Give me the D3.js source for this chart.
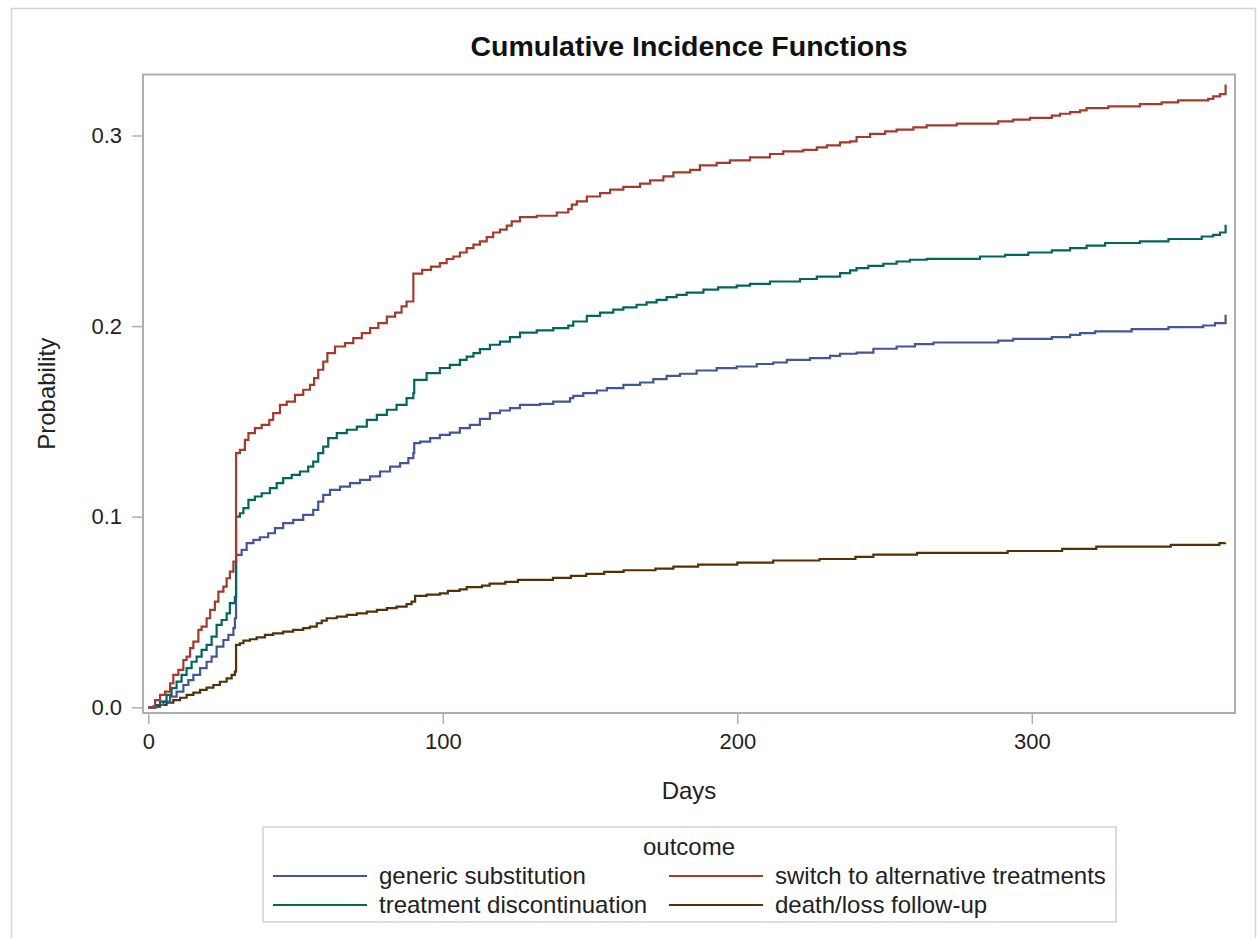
<!DOCTYPE html>
<html>
  <head>
    <meta charset="utf-8">
    <title>Cumulative Incidence Functions</title>
    <script src="https://d3js.org/d3.v7.min.js"></script>
    <style>
      body { margin: 0; background: #fff; }
      text { font-family: "Liberation Sans", Arial, sans-serif; fill: #222; }
    </style>
  </head>
  <body>
    <script>
      // ==================
      // Data
      // ==================
      const xTicks = [0, 100, 200, 300];
      const yTicks = [0.0, 0.1, 0.2, 0.3];

      const seriesNames = [
        "generic substitution",
        "switch to alternative treatments",
        "treatment discontinuation",
        "death/loss follow-up"
      ];

      const genericDays = [0, 2.8, 5.1, 7.4, 9.6, 11.9, 13.6, 15.3, 17.6, 19.8, 21.5, 23.2, 25.5, 27.2, 28.9, 29.4, 29.8, 31.7, 33.4, 35.7, 37.9, 40.7, 43, 45.8, 49.2, 52.6, 56, 57.7, 59.4, 61.7, 65.1, 68.5, 71.9, 75.3, 78.7, 82.1, 85.5, 88.3, 90,
        90.3, 92.3, 95.7, 99, 102.4, 105.8, 109.2, 112.6, 116, 119.4, 122.8, 126.2, 133, 137.5, 143.2, 144.3, 147.7, 152.3, 155.7, 161.3, 167, 171.5, 176, 180.5, 186.2, 193, 199.8, 206.6, 212.2, 216.8, 224.7, 231.5, 234.9, 240.5, 246.2, 254.1, 260.3, 266.6, 288.6, 293.7, 306.8, 313, 316.4, 321.5, 333.9, 346.4, 358.2, 362.2, 365.8];
      const genericProb = [0, 0.0012, 0.003, 0.0056, 0.0082, 0.0117, 0.0143, 0.017, 0.0205, 0.0239, 0.0266, 0.0318, 0.0353, 0.038, 0.0415, 0.0467, 0.08, 0.0826, 0.0861, 0.0878, 0.0892, 0.0913, 0.094, 0.0966, 0.0983, 0.101, 0.1036, 0.1079, 0.1114, 0.1141, 0.1158, 0.1176, 0.1193, 0.1211, 0.1237, 0.1263, 0.1281, 0.1307, 0.1333,
        0.1386, 0.1394, 0.1412, 0.1429, 0.1441, 0.1465, 0.1482, 0.1513, 0.1543, 0.1557, 0.157, 0.1587, 0.1592, 0.1604, 0.1622, 0.1634, 0.1648, 0.1662, 0.1675, 0.1692, 0.1704, 0.1722, 0.1739, 0.175, 0.1767, 0.1779, 0.1788, 0.1801, 0.1809, 0.1823, 0.1832, 0.1844, 0.1855, 0.1861, 0.1881, 0.1893, 0.1905, 0.1914, 0.1924, 0.1933, 0.1942, 0.1954, 0.1963, 0.1972, 0.1984, 0.1995, 0.2003, 0.2016, 0.206];

      const switchDays = [0, 2.3, 4, 5.7, 7.4, 8.5, 10.2, 11.9, 13, 14.2, 15.3, 17, 18.1, 19.8, 21, 22.6, 23.8, 25.5, 26.6, 27.7, 28.9, 29.8, 31.1, 32.8, 34, 36.2, 38.5, 41.1, 42.4, 44.7, 47, 49.8, 52.6, 54.9, 56.3, 57.7, 59.4, 60.8, 63.4, 66.8, 69.6, 72.5, 75.3, 78.1, 81, 83.8, 86, 87.7,
        90, 93, 96, 99, 101.3, 103.6, 105.8, 108.1, 110.4, 112.6, 114.9, 117.1, 119.4, 121.7, 123.4, 126.2, 131.9, 138.7, 142.6, 143.8, 145.5, 148.9, 153.4, 156.8, 161.3, 167, 170.4, 174.9, 178.3, 184, 187.3, 193, 197.5, 204.3, 211.1, 215.6, 222.4, 227, 230.4, 234.9, 238.3, 240.5, 245.1, 250.2, 254.1, 259.8, 264.3, 274.5, 288.6, 293.7, 299.4, 306.8, 309.6, 313, 316.4, 318.6, 326, 336.7, 344.1, 349.7, 359.9, 361.6, 363.9, 365.8];
      const switchProb = [0, 0.0038, 0.0065, 0.0082, 0.0126, 0.017, 0.0196, 0.0248, 0.0266, 0.031, 0.0344, 0.0406, 0.0423, 0.0467, 0.0511, 0.0554, 0.0607, 0.0633, 0.0677, 0.0712, 0.0764, 0.1333, 0.1351, 0.1403, 0.1438, 0.1465, 0.1482, 0.1508, 0.1543, 0.1587, 0.1604, 0.1639, 0.1666, 0.1692, 0.1727, 0.1771, 0.1814, 0.1858, 0.1893, 0.1911, 0.1937, 0.1963, 0.199, 0.2016, 0.205, 0.2071, 0.2103, 0.2129,
        0.2275, 0.2295, 0.2312, 0.233, 0.2352, 0.2365, 0.2386, 0.2409, 0.2427, 0.2444, 0.2467, 0.2491, 0.2506, 0.2527, 0.2549, 0.2572, 0.2579, 0.2596, 0.2614, 0.2637, 0.2654, 0.268, 0.2698, 0.2716, 0.273, 0.2747, 0.2764, 0.2785, 0.2806, 0.282, 0.2843, 0.2856, 0.2869, 0.2885, 0.2903, 0.2917, 0.2925, 0.2938, 0.2948, 0.2964, 0.2969, 0.2992, 0.3009, 0.3022, 0.3031, 0.3043, 0.3053, 0.3062, 0.3074, 0.3083, 0.3092, 0.3104, 0.3114, 0.3123, 0.3132, 0.3144, 0.3153, 0.3165, 0.3174, 0.3184, 0.3192, 0.3205, 0.3217, 0.3267];

      const discontDays = [0, 2.3, 4, 6.2, 7.9, 9.6, 11.3, 13, 14.7, 16.4, 18.1, 19.8, 21.5, 23.2, 24.9, 26.6, 27.7, 29.4, 29.8, 31.1, 32.3, 34, 36.2, 38.5, 41.3, 43.6, 45.8, 48.7, 51.5, 54.3, 56, 57.7, 59.4, 61.1, 64, 67.4, 70.8, 74.2, 77.6, 81, 84.3, 87.7, 90,
        90.3, 94.5, 99, 102.4, 105.8, 108.1, 110.4, 112.6, 116, 119.4, 122.8, 126.2, 131.9, 137.5, 142.6, 144.3, 148.9, 153.4, 157.9, 161.3, 165.8, 169.2, 172.6, 176, 179.4, 182.8, 188.5, 193.5, 199.8, 204.3, 211.1, 221.3, 227, 234.9, 238.3, 240.5, 244.5, 249.6, 254.1, 258.6, 264.3, 282.4, 290.9, 298.8, 306.8, 313, 318.6, 324.9, 336.7, 346.4, 357.7, 361.6, 363.9, 365.8];
      const discontProb = [0, 0.0012, 0.003, 0.0065, 0.01, 0.0135, 0.017, 0.0205, 0.0239, 0.0266, 0.0301, 0.0327, 0.0371, 0.0432, 0.0458, 0.0493, 0.0546, 0.058, 0.1, 0.1018, 0.1045, 0.1088, 0.1106, 0.1123, 0.115, 0.1176, 0.1202, 0.1219, 0.1237, 0.1263, 0.1289, 0.1333, 0.1368, 0.1412, 0.1438, 0.1456, 0.1473, 0.1508, 0.1534, 0.1561, 0.1587, 0.1622, 0.1648,
        0.1718, 0.1753, 0.178, 0.1797, 0.1823, 0.184, 0.1858, 0.1879, 0.1902, 0.1919, 0.1942, 0.1966, 0.1977, 0.1989, 0.2002, 0.2024, 0.2054, 0.2071, 0.2086, 0.2098, 0.2112, 0.2124, 0.2138, 0.2152, 0.2164, 0.2176, 0.2191, 0.2203, 0.2212, 0.2222, 0.2234, 0.2247, 0.226, 0.2278, 0.2292, 0.2304, 0.2316, 0.2327, 0.2339, 0.2348, 0.2353, 0.2365, 0.2374, 0.2386, 0.2397, 0.2409, 0.2422, 0.2436, 0.2444, 0.2457, 0.247, 0.2479, 0.2491, 0.2532];

      const deathDays = [0, 1.7, 4, 6.2, 8.5, 10.8, 13, 15.3, 17.6, 19.8, 22.1, 24.3, 26.6, 28.3, 29.4, 29.8, 31.1, 32.3, 34.5, 36.8, 39.6, 42.4, 45.8, 49.2, 52.6, 54.9, 57.2, 58.9, 60.6, 64, 67.4, 70.8, 74.2, 77.6, 81, 84.3, 87.7, 89.4, 90.6, 94.5, 99, 101.7,
        105.7, 108.1, 113.3, 115.9, 121.2, 125.5, 137.4, 143.5, 148.7, 154.8, 161.4, 172.2, 178.3, 186.7, 200, 212.2, 227.9, 240.1, 246.2, 261, 291.8, 310.3, 321.9, 347.2, 363.7, 365.6];
      const deathProb = [0, 0.0003, 0.0012, 0.0024, 0.0038, 0.005, 0.0065, 0.0077, 0.0091, 0.0103, 0.0117, 0.0134, 0.0152, 0.017, 0.0187, 0.0327, 0.0336, 0.035, 0.0357, 0.0367, 0.038, 0.0388, 0.0397, 0.0406, 0.0415, 0.0423, 0.0441, 0.0455, 0.0467, 0.0476, 0.0485, 0.0493, 0.0502, 0.0511, 0.052, 0.0528, 0.0541, 0.0554, 0.0584, 0.0591, 0.0598, 0.0611,
        0.0619, 0.063, 0.0638, 0.0649, 0.0658, 0.0668, 0.0679, 0.0689, 0.07, 0.071, 0.0719, 0.0728, 0.0738, 0.0749, 0.0759, 0.077, 0.0778, 0.0789, 0.0801, 0.081, 0.082, 0.0831, 0.0843, 0.0852, 0.0861, 0.0865];

      const seriesColors = ["#445694", "#a23a2e", "#01665e", "#543005"];

      function generateChart() {
        const width = 1259;
        const height = 938;
        const plot = {left: 143, right: 1235, top: 74.5, bottom: 713};
        const frameColor = "#a9b0b4";

        const series = [
          {name: seriesNames[0], days: genericDays, prob: genericProb, color: seriesColors[0]},
          {name: seriesNames[1], days: switchDays, prob: switchProb, color: seriesColors[1]},
          {name: seriesNames[2], days: discontDays, prob: discontProb, color: seriesColors[2]},
          {name: seriesNames[3], days: deathDays, prob: deathProb, color: seriesColors[3]}
        ];

        const svg = d3.select("body")
          .append("svg")
            .attr("width", width)
            .attr("height", height);

        // outer graph border
        svg.append("rect")
          .attr("x", 11.5)
          .attr("y", 8.5)
          .attr("width", 1244)
          .attr("height", 960)
          .attr("fill", "none")
          .attr("stroke", "#d4d4d4")
          .attr("stroke-width", 1.5);

        const xScale = d3.scaleLinear()
          .domain([-1.8, 369])
          .range([plot.left, plot.right]);

        const yScale = d3.scaleLinear()
          .domain([-0.003, 0.332])
          .range([plot.bottom, plot.top]);

        // title
        svg.append("text")
          .attr("x", (plot.left + plot.right) / 2)
          .attr("y", 56)
          .attr("text-anchor", "middle")
          .style("font-size", "28.5px")
          .style("font-weight", "bold")
          .style("fill", "#111")
          .text("Cumulative Incidence Functions");

        // axes
        const xAxis = d3.axisBottom(xScale)
          .tickValues(xTicks)
          .tickSize(11)
          .tickPadding(9)
          .tickFormat(d3.format("d"));

        const yAxis = d3.axisLeft(yScale)
          .tickValues(yTicks)
          .tickSize(11)
          .tickPadding(10)
          .tickFormat(d3.format(".1f"));

        const gx = svg.append("g")
          .attr("transform", "translate(0," + plot.bottom + ")")
          .call(xAxis);

        const gy = svg.append("g")
          .attr("transform", "translate(" + plot.left + ",0)")
          .call(yAxis);

        [gx, gy].forEach(function(g) {
          g.select(".domain").remove();
          g.selectAll(".tick line").attr("stroke", frameColor).attr("stroke-width", 1.5);
          g.selectAll(".tick text")
            .style("font-size", "22px")
            .style("font-family", "'Liberation Sans', Arial, sans-serif")
            .attr("fill", "#222");
        });

        // axis labels
        svg.append("text")
          .attr("x", (plot.left + plot.right) / 2)
          .attr("y", 799)
          .attr("text-anchor", "middle")
          .style("font-size", "24px")
          .text("Days");

        svg.append("text")
          .attr("transform", "translate(55," + (plot.top + plot.bottom) / 2 + ") rotate(-90)")
          .attr("text-anchor", "middle")
          .style("font-size", "24px")
          .text("Probability");

        // step lines
        const line = d3.line()
          .x(function(d) { return xScale(d[0]); })
          .y(function(d) { return yScale(d[1]); })
          .curve(d3.curveStepAfter);

        svg.append("clipPath").attr("id", "plot-clip")
          .append("rect")
            .attr("x", plot.left)
            .attr("y", plot.top)
            .attr("width", plot.right - plot.left)
            .attr("height", plot.bottom - plot.top);

        const lines = svg.append("g").attr("clip-path", "url(#plot-clip)");

        // draw so the later ones sit on top
        [3, 0, 2, 1].forEach(function(i) {
          const s = series[i];
          const pts = s.days.map(function(d, j) { return [d, s.prob[j]]; });
          lines.append("path")
            .attr("d", line(pts))
            .attr("fill", "none")
            .attr("stroke", s.color)
            .attr("stroke-width", 2.2);
        });

        // plot frame
        svg.append("rect")
          .attr("x", plot.left)
          .attr("y", plot.top)
          .attr("width", plot.right - plot.left)
          .attr("height", plot.bottom - plot.top)
          .attr("fill", "none")
          .attr("stroke", frameColor)
          .attr("stroke-width", 2);

        // legend
        const legend = svg.append("g");
        legend.append("rect")
          .attr("x", 263)
          .attr("y", 827)
          .attr("width", 853)
          .attr("height", 95)
          .attr("fill", "none")
          .attr("stroke", "#cfd3d5")
          .attr("stroke-width", 1.5);

        legend.append("text")
          .attr("x", 689)
          .attr("y", 855)
          .attr("text-anchor", "middle")
          .style("font-size", "24px")
          .text("outcome");

        const colX = [273, 669];
        const rowY = [876, 905];
        series.forEach(function(s, k) {
          const cx = colX[k % 2];
          const cy = rowY[Math.floor(k / 2)];
          legend.append("line")
            .attr("x1", cx)
            .attr("x2", cx + 94)
            .attr("y1", cy)
            .attr("y2", cy)
            .attr("stroke", s.color)
            .attr("stroke-width", 2.2);
          legend.append("text")
            .attr("x", cx + 106)
            .attr("y", cy + 8)
            .style("font-size", "24px")
            .text(s.name);
        });
      }
      generateChart();
    </script>
  </body>
</html>
